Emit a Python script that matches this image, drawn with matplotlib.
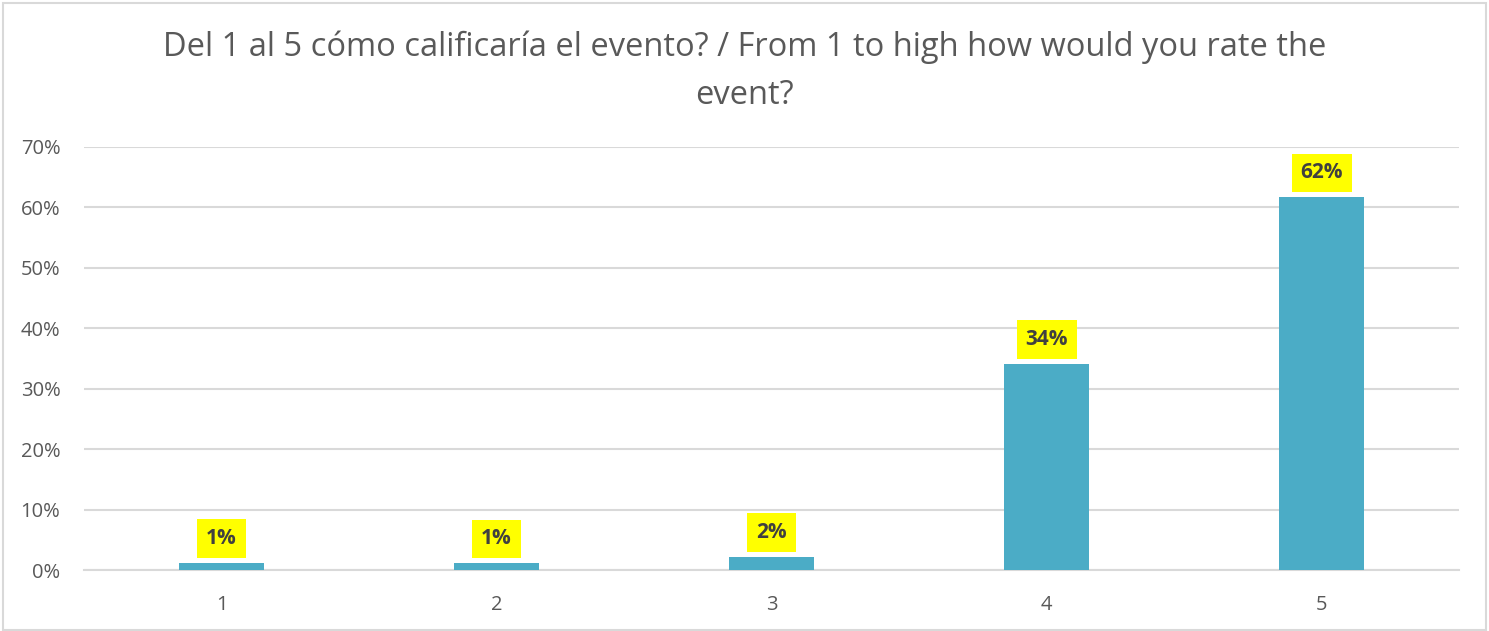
import numpy as np
import matplotlib.pyplot as plt
from matplotlib.patches import Rectangle

plt.rcParams['font.family'] = ['Open Sans', 'DejaVu Sans']

categories = ['1', '2', '3', '4', '5']
values = [1.2, 1.1, 2.2, 34.1, 61.7]
labels = ['1%', '1%', '2%', '34%', '62%']
yticks = [0, 10, 20, 30, 40, 50, 60, 70]

fig = plt.figure(figsize=(14.89, 6.31), dpi=100)
ax = fig.add_axes([84/1489, 1-570/631, 1375/1489, 423/631])

x = np.arange(len(categories))
ax.bar(x, values, width=0.31, color='#4BACC6', zorder=3)

for xi, v, lab in zip(x, values, labels):
    ax.annotate(lab, (xi, v), xytext=(0, 10), textcoords='offset points',
                ha='center', va='bottom', fontsize=15, fontweight='bold',
                color='#404040', zorder=4,
                bbox=dict(boxstyle='square,pad=0.42', fc='#FFFF00', ec='none'))

ax.set_xlim(-0.5, 4.5)
ax.set_ylim(0, 70)
ax.set_yticks(yticks)
ax.set_yticklabels([f'{t}%' for t in yticks])
ax.set_xticks(x)
ax.set_xticklabels(categories)
ax.tick_params(length=0, labelsize=14.5, colors='#595959')
ax.tick_params(axis='x', pad=18)
ax.tick_params(axis='y', pad=17)
ax.grid(axis='y', color='#D9D9D9', linewidth=1.5, zorder=0)
for s in ['top', 'right', 'left']:
    ax.spines[s].set_visible(False)
ax.spines['bottom'].set_color('#D9D9D9')
ax.spines['bottom'].set_linewidth(1.5)

title1 = 'Del 1 al 5 cómo calificaría el evento? / From 1 to high how would you rate the'
fig.text(0.5, 1-47/631, title1, ha='center', va='center', fontsize=23.5, color='#595959')
fig.text(0.5, 1-95/631, 'event?', ha='center', va='center', fontsize=23.5, color='#595959')

fig.patches.append(Rectangle((0.002, 0.002), 0.996, 0.994, transform=fig.transFigure,
                             fill=False, ec='#D9D9D9', lw=1.5))

fig.savefig('out.png', dpi=100)
